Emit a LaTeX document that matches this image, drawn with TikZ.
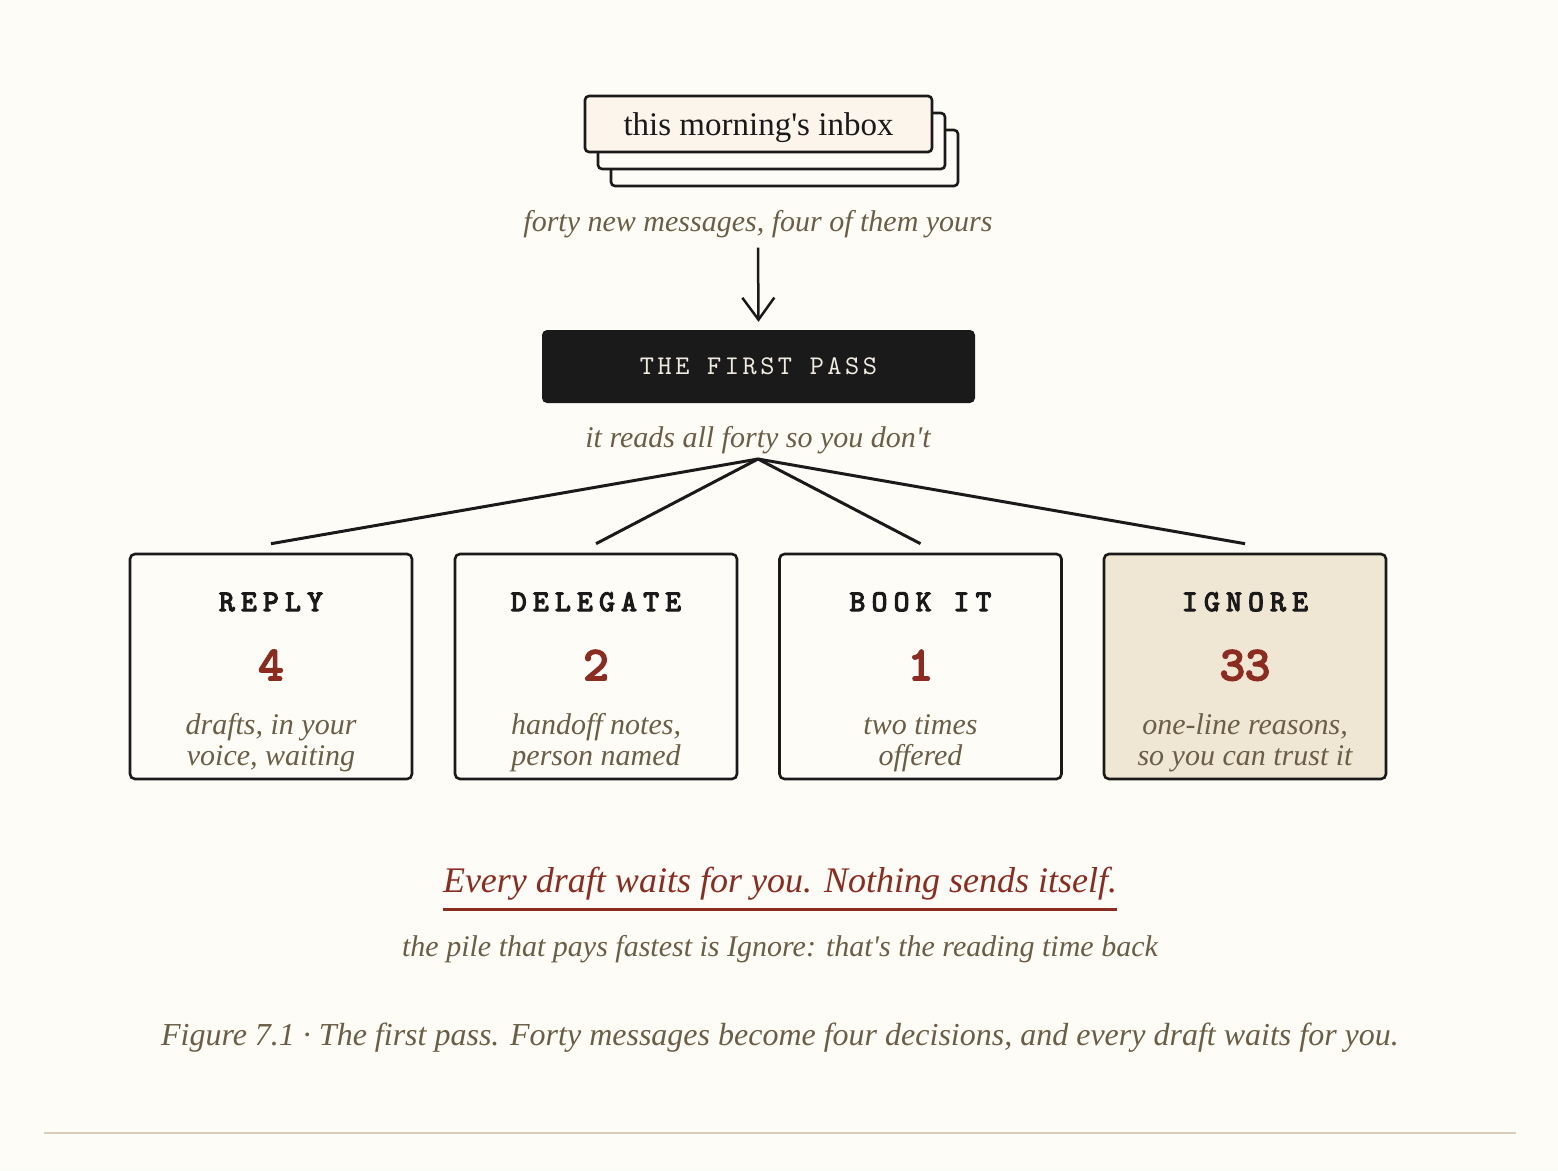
\documentclass[tikz,border=0pt]{standalone}
\usepackage{fontspec}
\setmainfont{Liberation Serif}
\newfontfamily\labelfont{lmmono10-regular}[Extension=.otf, FakeBold=4, LetterSpace=21]
\newfontfamily\passfont{lmmono10-regular}[Extension=.otf, LetterSpace=13]
\newfontfamily\numfont{lmmono10-regular}[Extension=.otf, FakeBold=4]
\usetikzlibrary{arrows.meta}

\definecolor{paper}{HTML}{FEFCF7}
\definecolor{ink}{HTML}{1A1A1A}
\definecolor{rust}{HTML}{8C2B1F}
\definecolor{olive}{HTML}{6B5E46}
\definecolor{inboxfill}{HTML}{FBF5EC}
\definecolor{ignorefill}{HTML}{EFE6D3}
\definecolor{passtext}{HTML}{F0EBE0}
\definecolor{rulecol}{HTML}{D8CDB8}

\newcommand{\ap}{\textquotesingle}

\tikzset{
  pile/.style={draw=ink, fill=inboxfill, line width=2.6pt, rounded corners=4pt,
    minimum width=347pt, minimum height=56pt, inner sep=0pt, text=ink},
  passbox/.style={fill=ink, rounded corners=5pt, minimum width=433pt,
    minimum height=73pt, inner sep=0pt, text=passtext,
    font=\passfont\fontsize{27}{27}\selectfont},
  choice/.style={draw=ink, fill=paper, line width=2.6pt, rounded corners=5pt,
    minimum width=282pt, minimum height=225pt, inner sep=0pt},
  note/.style={anchor=base, inner sep=0pt, text=olive,
    font=\itshape\fontsize{30}{31}\selectfont},
  head/.style={anchor=base, inner sep=0pt, text=ink,
    font=\labelfont\fontsize{30}{30}\selectfont},
  count/.style={anchor=base, inner sep=0pt, text=rust,
    font=\numfont\fontsize{48}{48}\selectfont},
  arrow/.style={draw=ink, line width=2.5pt, -{Straight Barb[length=22pt, width=32pt]}},
  fan/.style={draw=ink, line width=3pt},
}

\begin{document}
\begin{tikzpicture}[x=1pt, y=-1pt]

\fill[paper] (0,0) rectangle (1558,1170);
\useasboundingbox (0,0) rectangle (1558,1170);

% the inbox, as a small pile
\node[pile, fill=paper] (pileC) at (784.5,158) {};
\node[pile, fill=paper] (pileB) at (771.5,141) {};
\node[pile, text height=24pt, text depth=2pt, font=\fontsize{33}{36}\selectfont] (inbox) at (758.5,124) {this morning\ap s inbox};
\node[note] (forty) at (758,231) {forty new messages, four of them yours};

\node[passbox] (pass) at (758.5,366.5) {THE FIRST PASS};
\node[note] (reads) at (758,447) {it reads all forty so you don\ap t};

\draw[arrow] ([yshift=-10pt]forty.south) -- ([yshift=8pt]pass.north);

% four piles
\node[choice] (reply) at (271,666.5) {};
\node[choice] (delegate) at (596,666.5) {};
\node[choice] (book) at (920.5,666.5) {};
\node[choice, fill=ignorefill] (ignore) at (1245,666.5) {};

\coordinate (fork) at (758,459);
\foreach \b in {reply,delegate,book,ignore}
  \draw[fan] (fork) -- ([yshift=9pt]\b.north);

\node[head] (replyH) at (271,611) {REPLY};
\node[count] (replyN) at (271,680) {4};
\node[note] (replyA) at (271,734) {drafts, in your};
\node[note] (replyB) at (271,765) {voice, waiting};

\node[head] (delegateH) at (596,611) {DELEGATE};
\node[count] (delegateN) at (596,680) {2};
\node[note] (delegateA) at (596,734) {handoff notes,};
\node[note] (delegateB) at (596,765) {person named};

\node[head] (bookH) at (920.5,611) {BOOK IT};
\node[count] (bookN) at (920.5,680) {1};
\node[note] (bookA) at (920.5,734) {two times};
\node[note] (bookB) at (920.5,765) {offered};

\node[head] (ignoreH) at (1245,611) {IGNORE};
\node[count] (ignoreN) at (1245,680) {33};
\node[note] (ignoreA) at (1245,734) {one-line reasons,};
\node[note] (ignoreB) at (1245,765) {so you can trust it};

% bottom lines
\node[note, text=rust, font=\itshape\fontsize{36}{40}\selectfont] (tagline) at (780,892)
  {Every draft waits for you. Nothing sends itself.};
\draw[rust, line width=3pt] ([yshift=-17pt]tagline.base west) -- ([yshift=-17pt]tagline.base east);
\node[note] (payoff) at (780,956) {the pile that pays fastest is Ignore: that\ap s the reading time back};
\node[note, font=\itshape\fontsize{32}{34}\selectfont] (caption) at (780,1045)
  {Figure 7.1 · The first pass. Forty messages become four decisions, and every draft waits for you.};

\draw[rulecol, line width=2pt] (44,1133) -- (1516,1133);

\end{tikzpicture}
\end{document}
